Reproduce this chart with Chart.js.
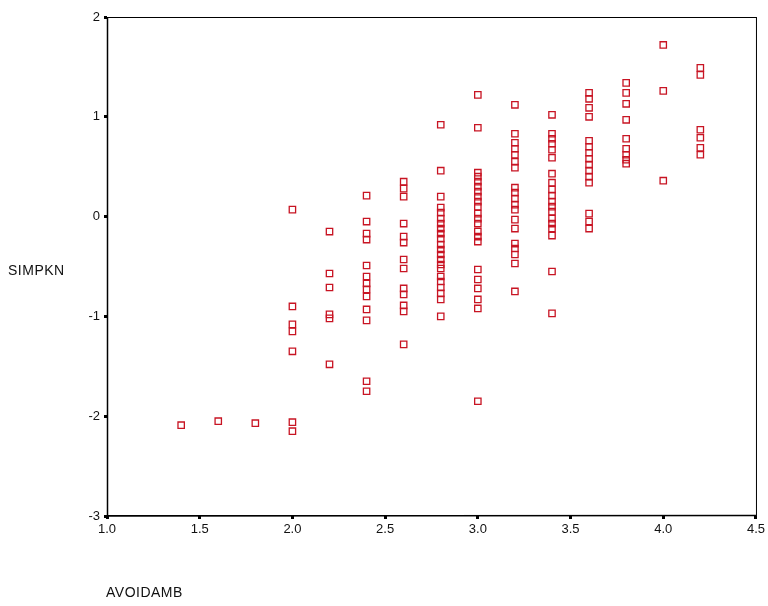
<!DOCTYPE html>
<html><head><meta charset="utf-8">
<script src="https://cdn.jsdelivr.net/npm/chart.js@4"></script>
<style>
html,body{margin:0;padding:0;background:#fff;width:768px;height:606px;overflow:hidden}
#wrap{position:relative;width:768px;height:606px}
canvas{display:block}
.t{position:absolute;font-family:"Liberation Sans",Arial,sans-serif;font-size:14px;color:#111;letter-spacing:0.5px}
</style></head><body>
<div id="wrap"><canvas id="c" width="768" height="606"></canvas>
<div class="t" style="left:8px;top:262px">SIMPKN</div>
<div class="t" style="left:106px;top:584px">AVOIDAMB</div>
</div>
<script>
// AVOIDAMB levels (x) and SIMPKN values (y) observed at each level
const xLevels = [1.4, 1.6, 1.8, 2.0, 2.2, 2.4, 2.6, 2.8, 3.0, 3.2, 3.4, 3.6, 3.8, 4.0, 4.2];
const at14 = [-2.09];
const at16 = [-2.05];
const at18 = [-2.07];
const at20 = [0.07, -0.90, -1.08, -1.15, -1.35, -2.06, -2.15];
const at22 = [-0.15, -0.57, -0.71, -0.98, -1.02, -1.48];
const at24 = [0.21, -0.05, -0.17, -0.23, -0.49, -0.60, -0.67, -0.73, -0.80, -0.93, -1.04, -1.65, -1.75];
const at26 = [0.35, 0.28, 0.20, -0.07, -0.20, -0.26, -0.43, -0.52, -0.72, -0.78, -0.89, -0.95, -1.28];
const at28 = [0.92, 0.46, 0.20, 0.09, 0.04, -0.02, -0.07, -0.12, -0.17, -0.22, -0.28, -0.33, -0.38, -0.43, -0.48, -0.52, -0.60, -0.65, -0.71, -0.77, -0.83, -1.00];
const at30 = [1.22, 0.89, 0.44, 0.40, 0.35, 0.30, 0.25, 0.20, 0.15, 0.10, 0.03, -0.02, -0.07, -0.15, -0.20, -0.25, -0.53, -0.63, -0.72, -0.83, -0.92, -1.85];
const at32 = [1.12, 0.83, 0.74, 0.68, 0.62, 0.55, 0.49, 0.29, 0.24, 0.18, 0.12, 0.07, -0.03, -0.12, -0.27, -0.32, -0.38, -0.47, -0.75];
const at34 = [1.02, 0.83, 0.78, 0.73, 0.67, 0.59, 0.43, 0.34, 0.27, 0.21, 0.15, 0.10, 0.05, -0.02, -0.07, -0.12, -0.19, -0.55, -0.97];
const at36 = [1.24, 1.18, 1.09, 1.00, 0.76, 0.70, 0.64, 0.58, 0.52, 0.46, 0.40, 0.34, 0.03, -0.05, -0.12];
const at38 = [1.34, 1.24, 1.13, 0.97, 0.78, 0.68, 0.62, 0.57, 0.53];
const at40 = [1.72, 1.26, 0.36];
const at42 = [1.49, 1.42, 0.87, 0.79, 0.69, 0.62];
const yGroups = [at14, at16, at18, at20, at22, at24, at26, at28, at30, at32, at34, at36, at38, at40, at42];

const xTicks = [1.0, 1.5, 2.0, 2.5, 3.0, 3.5, 4.0, 4.5];
const yTicks = [-3, -2, -1, 0, 1, 2];

const points = [];
xLevels.forEach((x, i) => yGroups[i].forEach(y => points.push({x: x, y: y})));

const frame = {
  id: 'frame',
  afterDraw(chart) {
    const a = chart.chartArea, ctx = chart.ctx;
    ctx.save();
    ctx.strokeStyle = '#000';
    ctx.lineWidth = 1;
    ctx.strokeRect(a.left + 0.5, a.top + 0.5, a.right - a.left, a.bottom - a.top - 1);
    ctx.lineWidth = 1.5;
    ctx.beginPath();
    ctx.moveTo(a.left + 0.5, a.top); ctx.lineTo(a.left + 0.5, a.bottom);
    ctx.lineTo(a.right, a.bottom - 0.5);
    ctx.stroke();
    ctx.restore();
  }
};

const tickFont = {family: '"Liberation Sans", Arial, sans-serif', size: 13};

new Chart(document.getElementById('c'), {
  type: 'scatter',
  data: {datasets: [{
    data: points,
    pointStyle: 'rect',
    pointRadius: 4.5,
    pointHoverRadius: 4.5,
    pointBorderWidth: 1.3,
    pointBorderColor: 'rgb(200,20,35)',
    pointBackgroundColor: 'rgba(255,255,255,0)'
  }]},
  options: {
    responsive: false,
    animation: false,
    devicePixelRatio: 1,
    layout: {padding: {left: 0, top: 17, right: 11, bottom: 0}},
    plugins: {legend: {display: false}, tooltip: {enabled: false}},
    scales: {
      x: {
        type: 'linear', min: 1, max: 4.5,
        afterBuildTicks(s) { s.ticks = xTicks.map(v => ({value: v})); },
        afterFit(s) { s.height = 90; },
        border: {display: false},
        grid: {display: true, drawOnChartArea: false, drawTicks: true, tickLength: 3, tickWidth: 3, tickColor: '#000'},
        ticks: {color: '#111', font: tickFont, padding: 3, maxRotation: 0, callback: v => Number(v).toFixed(1)}
      },
      y: {
        type: 'linear', min: -3, max: 2,
        afterBuildTicks(s) { s.ticks = yTicks.map(v => ({value: v})); },
        afterFit(s) { s.width = 107; },
        border: {display: false},
        grid: {display: true, drawOnChartArea: false, drawTicks: true, tickLength: 3, tickWidth: 3, tickColor: '#000'},
        ticks: {color: '#111', font: tickFont, padding: 4, callback: v => String(v)}
      }
    }
  },
  plugins: [frame]
});
</script>
</body></html>
